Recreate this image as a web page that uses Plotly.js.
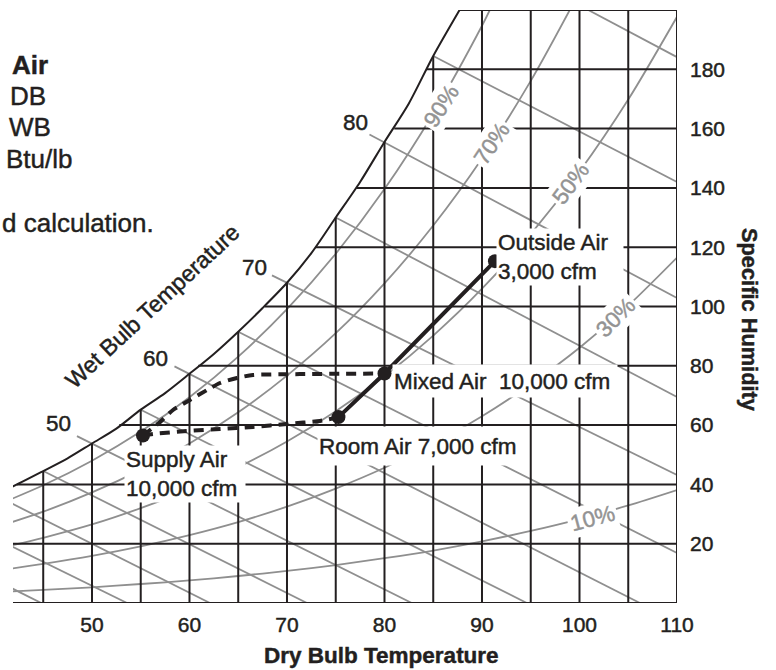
<!DOCTYPE html>
<html>
<head>
<meta charset="utf-8">
<script src="https://cdn.plot.ly/plotly-3.0.1.min.js"></script>
<style>html,body{margin:0;padding:0;background:#fff;}#chart{width:776px;height:670px;}</style>
</head>
<body>
<div id="chart"></div>
<script>
// ---------- data ----------
const xTicks = [50, 60, 70, 80, 90, 100, 110];
const yTicks = [20, 40, 60, 80, 100, 120, 140, 160, 180];

// saturation curve (dry bulb F, grains/lb)
const satT = [40, 42.5, 45, 47.5, 50, 52.5, 55, 57.5, 60, 62.5, 65, 67.5, 70, 72.5, 75, 77.5, 80, 82.5, 85, 87.7];
const satW = [36.5, 40.3, 44.5, 48.8, 53.8, 58.8, 65.2, 70.8, 77.3, 84.0, 91.5, 99.5, 108.0, 118.0, 130.0, 142.0, 155.5, 168.5, 184.5, 200];

// dry bulb grid lines
const dbGridT = [45, 50, 55, 60, 65, 70, 75, 80, 85, 90, 95, 100, 105, 110];
// specific humidity grid lines and where each starts on the saturation curve
const whGridW = [0, 20, 40, 60, 80, 100, 120, 140, 160, 180, 200];
const whGridStartT = [30, 30, 42.3, 52.8, 60.9, 67.7, 72.9, 77.1, 81.0, 84.3, 87.7];

// relative humidity curves
const rhT = [40, 45, 50, 55, 60, 65, 70, 75, 80, 85, 90, 95, 100, 105, 110];
const rh10W = [3.6, 4.4, 5.3, 6.4, 7.6, 9.1, 10.8, 12.8, 15.1, 17.7, 20.8, 24.3, 28.3, 32.9, 38.1];
const rh30W = [10.8, 13.2, 15.9, 19.1, 22.9, 27.3, 32.5, 38.6, 45.6, 53.7, 63.0, 73.8, 86.1, 100.3, 116.5];
const rh50W = [18.1, 22.0, 26.5, 32.0, 38.3, 45.8, 54.5, 64.7, 76.5, 90.2, 106.0, 124.4, 145.5, 169.8, 197.7];
const rh70T = [40, 45, 50, 55, 60, 65, 70, 75, 80, 85, 90, 95, 99];
const rh70W = [25.4, 30.8, 37.3, 44.9, 53.8, 64.3, 76.7, 91.0, 107.8, 127.3, 149.9, 176.1, 200];
const rh90T = [40, 45, 50, 55, 60, 65, 70, 75, 80, 85, 90, 90.8];
const rh90W = [32.7, 39.7, 48.0, 57.8, 69.4, 83.1, 99.1, 117.8, 139.6, 165.1, 194.7, 200];
const rhLabels = ['10%', '30%', '50%', '70%', '90%'];

// wet bulb lines: start and end points
const wbLabel  = [30, 35, 40, 45, 50, 55, 60, 65, 70, 75, 80, 85, 90];
const wbStartT = [30, 35, 40, 45, 48.46, 55, 58.46, 65, 68.46, 75, 78.46, 85, 100.9];
const wbStartW = [24.3, 30.0, 36.5, 44.5, 56.3, 65.2, 79.8, 91.5, 110.5, 130, 158, 184.5, 200];
const wbEndT   = [44.8, 53.6, 62.1, 72.05, 82.8, 94.6, 106.2, 110, 110, 110, 110, 110, 110];
const wbEndW   = [0, 0, 0, 0, 0, 0, 0, 16.9, 43.2, 69.5, 102.9, 142, 184.1];

// process states
const stateNames = ['Supply Air', 'Room Air', 'Mixed Air', 'Outside Air'];
const stateT = [55.23, 75.28, 80.0, 91.33];
const stateW = [56.5, 62.7, 77.4, 115.3];
const stateCfm = ['10,000 cfm', '7,000 cfm', '10,000 cfm', '3,000 cfm'];

// dashed process paths
const supplyRoomT = [55.23, 56.26, 59.74, 63.13, 66.51, 70.0, 73.38, 75.28];
const supplyRoomW = [56.5, 57.0, 58.0, 58.7, 59.4, 60.4, 61.4, 62.7];
const supplyMixT = [55.23, 56.97, 58.31, 60.05, 61.79, 63.13, 64.87, 66.51, 71.33, 80.0];
const supplyMixW = [56.5, 61.0, 65.1, 68.5, 71.8, 74.2, 75.9, 76.9, 77.2, 77.4];

// ---------- build traces ----------
const BLACK = '#231f20';
const GRAY = '#8f8f8f';
const FONT = 'Liberation Sans, Arial, Helvetica, sans-serif';

function segs(x0, y0, x1, y1) {
  const x = [], y = [];
  for (let i = 0; i < x0.length; i++) { x.push(x0[i], x1[i], null); y.push(y0[i], y1[i], null); }
  return {x, y};
}
const dbTop = dbGridT.map(t => { const i = satT.indexOf(t); return i >= 0 ? satW[i] : 200; });
const vg = segs(dbGridT, dbGridT.map(() => 0), dbGridT, dbTop);
const hg = segs(whGridStartT, whGridW, whGridW.map(() => 110), whGridW);
const wb = segs(wbStartT, wbStartW, wbEndT, wbEndW);

const traces = [];
const rhSets = [[rhT, rh10W], [rhT, rh30W], [rhT, rh50W], [rh70T, rh70W], [rh90T, rh90W]];
rhSets.forEach((s, i) => traces.push({x: s[0], y: s[1], mode: 'lines', name: rhLabels[i],
  line: {color: GRAY, width: 1.8, shape: 'spline', smoothing: 0.8}, hoverinfo: 'skip'}));
traces.push({x: wb.x, y: wb.y, mode: 'lines', line: {color: GRAY, width: 1.8}, hoverinfo: 'skip', connectgaps: false});
traces.push({x: vg.x, y: vg.y, mode: 'lines', line: {color: BLACK, width: 2}, hoverinfo: 'skip', connectgaps: false});
traces.push({x: hg.x, y: hg.y, mode: 'lines', line: {color: BLACK, width: 2}, hoverinfo: 'skip', connectgaps: false});
traces.push({x: satT, y: satW, mode: 'lines', line: {color: BLACK, width: 2, shape: 'spline', smoothing: 0.8}, hoverinfo: 'skip'});
traces.push({x: supplyRoomT, y: supplyRoomW, mode: 'lines', line: {color: BLACK, width: 4, dash: '10px,7px', shape: 'spline', smoothing: 0.6}});
traces.push({x: supplyMixT, y: supplyMixW, mode: 'lines', line: {color: BLACK, width: 4, dash: '10px,7px', shape: 'spline', smoothing: 0.6}});
traces.push({x: [stateT[1], stateT[2], stateT[3]], y: [stateW[1], stateW[2], stateW[3]], mode: 'lines', line: {color: BLACK, width: 4}});
traces.push({x: stateT, y: stateW, mode: 'markers', text: stateNames, marker: {color: BLACK, size: 14}});

// ---------- annotations ----------
const ann = [];
function lab(x, y, text, opts) { ann.push(Object.assign({x, y, xref: 'x', yref: 'y', text, showarrow: false,
  xanchor: 'center', yanchor: 'middle', font: {family: FONT, size: 22.5, color: BLACK}}, opts || {})); }
function paperLab(px, py, text, opts) { ann.push(Object.assign({xref: 'paper', yref: 'paper',
  x: (px - 13) / 664, y: (603 - py) / 593, text, showarrow: false, xanchor: 'center', yanchor: 'middle',
  font: {family: FONT, size: 22, color: BLACK}}, opts || {})); }

// process labels with white boxes
lab(98.05, 116.7, stateNames[3] + '<br>' + stateCfm[3], {align: 'left', bgcolor: 'white', width: 124, height: 54, borderpad: 1});
lab(92.31, 74.9, stateNames[2] + '\u00a0 ' + stateCfm[2], {align: 'left', bgcolor: 'white', width: 222, height: 30, borderpad: 1});
lab(83.69, 53.0, stateNames[1] + ' ' + stateCfm[1], {align: 'left', bgcolor: 'white', width: 202, height: 36, borderpad: 1});
lab(59.59, 43.5, stateNames[0] + '<br>' + stateCfm[0], {align: 'left', bgcolor: 'white', width: 118, height: 54, borderpad: 1});

// RH labels
const rhLab = [[101.3, 28.6, -15], [103.7, 96.4, -45], [99.1, 141.6, -53], [91.0, 155.1, -56], [85.8, 167.5, -57]];
rhLab.forEach((p, i) => lab(p[0], p[1], rhLabels[i], {textangle: p[2], bgcolor: 'white', borderpad: 2,
  font: {family: FONT, size: 22.5, color: '#939393'}}));

// wet bulb labels
const wbLabPos = [[46.6, 60.4, 50], [56.56, 82.3, 60], [66.7, 113.3, 70], [77.0, 162.2, 80]];
wbLabPos.forEach(p => lab(p[0], p[1], String(p[2])));
lab(56.2, 100.3, 'Wet Bulb Temperature', {textangle: -43, font: {family: FONT, size: 23, color: BLACK}});

// axis titles
paperLab(381, 655, '<b>Dry Bulb Temperature</b>', {font: {family: FONT, size: 22.5, color: BLACK}});
paperLab(750, 319, '<b>Specific Humidity</b>', {textangle: 90, font: {family: FONT, size: 21.8, color: BLACK}});

// partially visible text block at upper left
const leftText = [['<b>Air</b>', 10, 65], ['DB', 8, 96], ['WB', 7, 127], ['Btu/lb', 4, 159], ['d calculation.', 0, 223]];
leftText.forEach(t => paperLab(t[1], t[2], t[0], {xanchor: 'left', font: {family: FONT, size: 26, color: BLACK}}));

const layout = {
  width: 776, height: 670,
  margin: {l: 13, r: 99, t: 10, b: 67, pad: 0},
  paper_bgcolor: 'white', plot_bgcolor: 'white',
  showlegend: false,
  font: {family: FONT, color: BLACK},
  xaxis: {range: [41.9, 110], tickvals: xTicks, ticktext: xTicks.map(String), showgrid: false, zeroline: false,
    showline: false, ticks: '', tickfont: {size: 21, color: BLACK}, ticklabelstandoff: 7, fixedrange: true},
  yaxis: {range: [0, 200], side: 'right', tickvals: yTicks, ticktext: yTicks.map(String), showgrid: false,
    zeroline: false, showline: false, ticks: '', tickfont: {size: 21, color: BLACK}, ticklabelstandoff: 12, fixedrange: true},
  annotations: ann
};

Plotly.newPlot('chart', traces, layout, {displayModeBar: false, staticPlot: true}).then(() => {
  // slightly heavier glyphs, like the printed original
  document.querySelectorAll('#chart text').forEach(t => {
    const f = t.style.fill;
    if (f) { t.style.stroke = f; t.style.strokeWidth = '0.45px'; }
  });
});
</script>
</body>
</html>
